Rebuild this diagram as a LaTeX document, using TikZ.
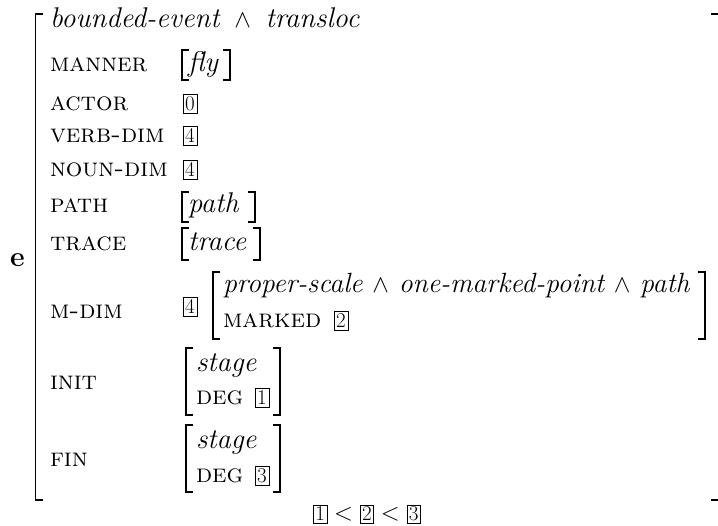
\documentclass[tikz,border=0pt]{standalone}
\usepackage{fontspec}
\newcommand\fsz{\fontsize{28.5}{32}\selectfont}
\newcommand\psz{\fontsize{27.8}{32}\selectfont}
\newcommand\lsz{\fontsize{26}{30}\selectfont}
\newcommand\tsz{\fontsize{21}{24}\selectfont}
\newcommand\mybrk[4]{%
  \draw[brk] (#1+7,#3) -- (#1,#3) -- (#1,#4) -- (#1+7,#4);
  \draw[brk] (#2-7,#3) -- (#2,#3) -- (#2,#4) -- (#2-7,#4);}
\newcommand\bx[1]{\tikz[baseline=(x.base)]\node[draw,line width=0.7pt,inner xsep=1.8pt,inner ysep=2.2pt,font=\tsz] (x) {#1};}
\begin{document}
\begin{tikzpicture}[x=1pt,y=-1pt,
  every node/.style={inner sep=0pt, outer sep=0pt},
  lbl/.style={anchor=base west, font=\lsz\scshape},
  typ/.style={anchor=base west, font=\fsz\itshape},
  tag/.style={draw, line width=0.7pt, inner xsep=2.2pt, inner ysep=2.4pt, anchor=base west, font=\tsz},
  brk/.style={line width=1.2pt},
  obrk/.style={line width=1.5pt}]
\useasboundingbox (0,0) rectangle (718,526);
% outer bracket
\draw[obrk] (43,14) -- (35.5,14) -- (35.5,500) -- (43,500);
\draw[obrk] (711,14) -- (719,14) -- (719,500) -- (711,500);
\node[anchor=base west, font=\fsz\bfseries] (e) at (10,267) {e};
% type
\node[typ] (t0) at (50,28) {bounded-event \,$\wedge$\, transloc};
% manner
\node[lbl] (manner) at (50,72) {manner};
\node[typ] (fly) at (188,72) {fly};
\mybrk{182}{230}{50}{80}
% actor etc
\node[lbl] (actor) at (50,111) {actor};
\node[tag] (a0) at (183,111) {0};
\node[lbl] (verbdim) at (50,143) {verb-dim};
\node[tag] (vd) at (183,143) {4};
\node[lbl] (noundim) at (50,177) {noun-dim};
\node[tag] (nd) at (183,177) {4};
% path
\node[lbl] (path) at (50,213) {path};
\node[typ] (pathv) at (188,213) {path};
\mybrk{182}{255}{192}{222}
% trace
\node[lbl] (trace) at (50,251) {trace};
\node[typ] (tracev) at (188,251) {trace};
\mybrk{182}{260}{228}{260}
% m-dim
\node[lbl] (mdim) at (50,319) {m-dim};
\node[tag] (md) at (183,314) {4};
\node[typ, font=\psz\itshape] (ps) at (223,293) {proper-scale $\wedge$ one-marked-point $\wedge$ path};
\node[lbl] (marked) at (223,328) {marked};
\node[tag] (m2) at (334,328) {2};
\mybrk{213}{705}{272}{339}
% init
\node[lbl] (init) at (50,390) {init};
\node[typ] (st1) at (196,372) {stage};
\node[lbl] (deg1) at (196,405) {deg};
\node[tag] (d1) at (255,405) {1};
\mybrk{186}{280}{348}{415}
% fin
\node[lbl] (fin) at (50,467) {fin};
\node[typ] (st2) at (196,449) {stage};
\node[lbl] (deg2) at (196,483) {deg};
\node[tag] (d3) at (255,483) {3};
\mybrk{186}{280}{425}{492}
% bottom
\node[anchor=base, font=\fsz] (ord) at (367,521) {\bx{1}${}<{}$\bx{2}${}<{}$\bx{3}};
\end{tikzpicture}
\end{document}
